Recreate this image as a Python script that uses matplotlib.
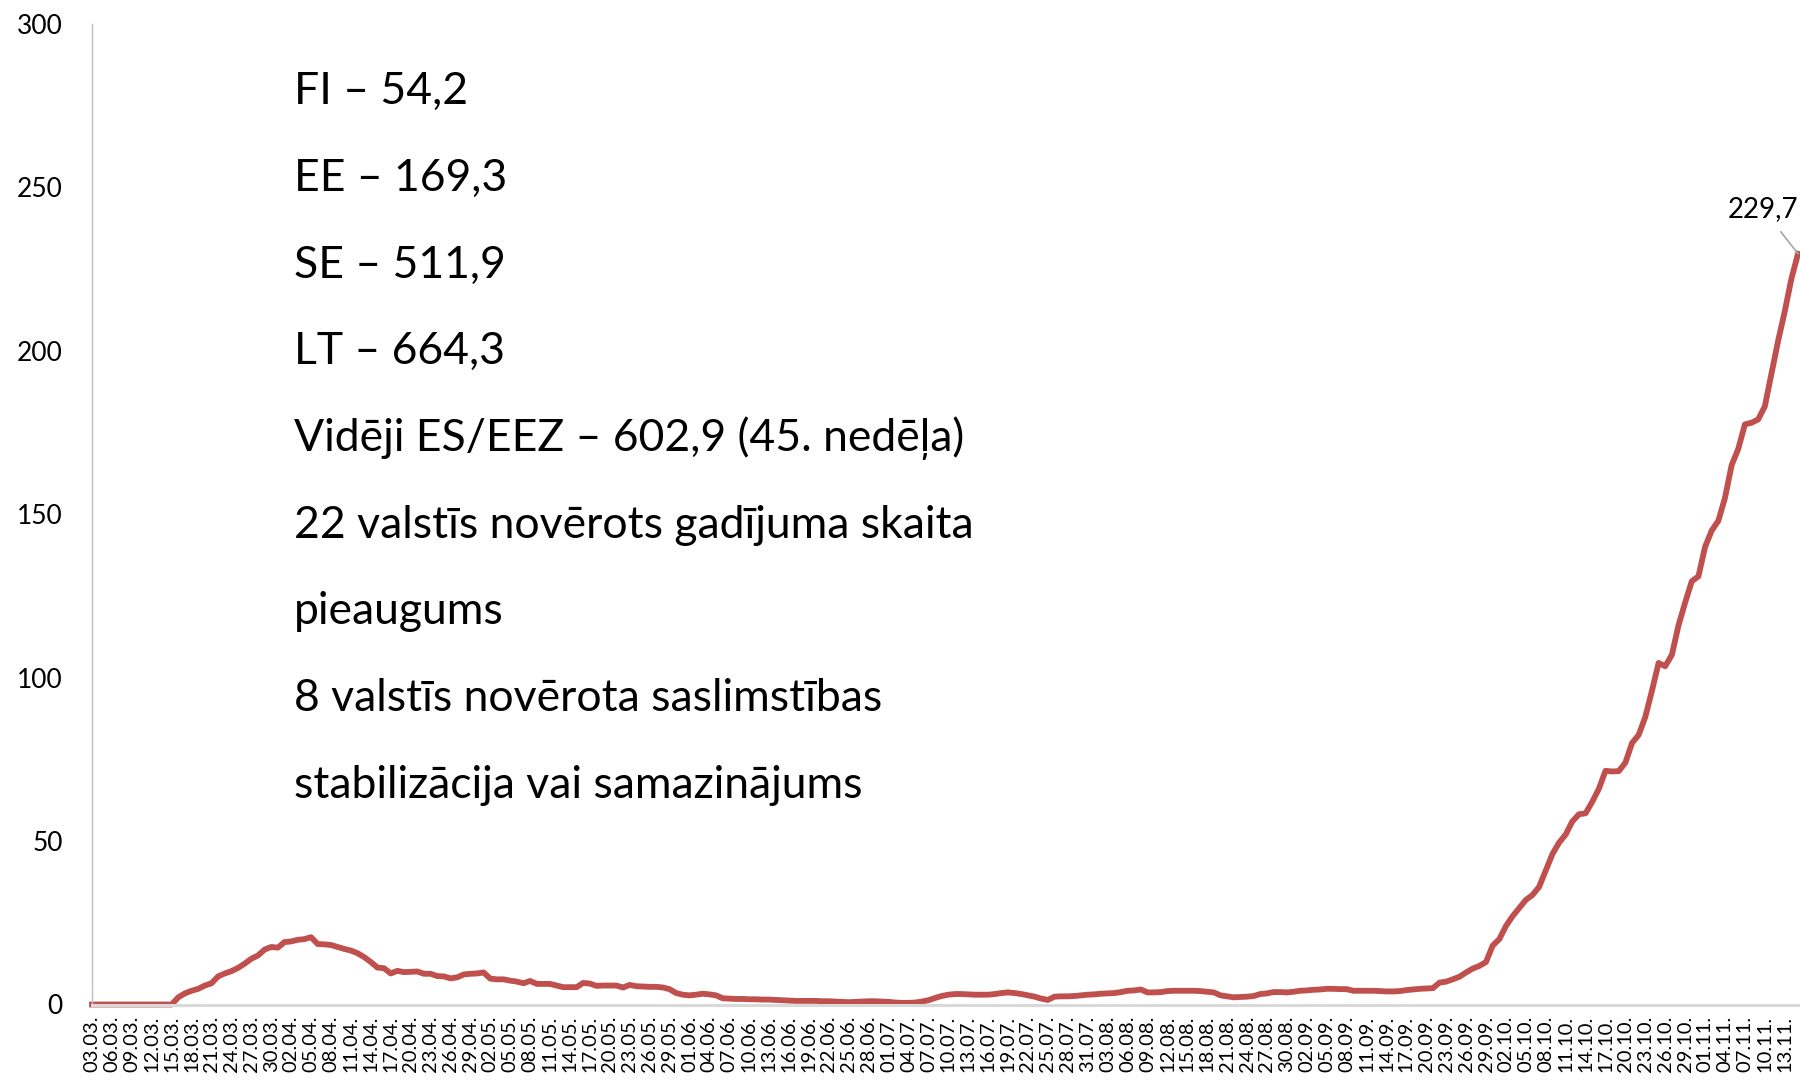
import matplotlib
matplotlib.use("Agg")
import matplotlib.pyplot as plt
import pandas as pd

# 14-day rate per 100 000, daily from 03.03.2020
start_date = "2020-03-03"
values = [
    0, 0, 0, 0, 0, 0, 0, 0, 0, 0, 0, 0, 0,
    2.2, 3.4, 4.2, 4.8, 5.8, 6.5, 8.6, 9.5, 10.2, 11.2, 12.5, 14.0, 15.0,
    16.8, 17.6, 17.4, 19.1, 19.3, 19.8, 20.0, 20.6, 18.5, 18.4, 18.2, 17.6,
    17.0, 16.5, 15.7, 14.5, 13.0, 11.3, 11.1, 9.5, 10.3, 9.9, 10.0, 10.1,
    9.4, 9.4, 8.7, 8.6, 8.0, 8.3, 9.2, 9.4, 9.5, 9.8, 7.9, 7.7, 7.7, 7.3,
    7.0, 6.5, 7.2, 6.3, 6.3, 6.3, 5.8, 5.3, 5.3, 5.3, 6.6, 6.4, 5.7, 5.8,
    5.8, 5.8, 5.2, 6.0, 5.6, 5.5, 5.4, 5.4, 5.2, 4.7, 3.5, 3.0, 2.8, 3.0,
    3.3, 3.1, 2.8, 1.9, 1.8, 1.7, 1.7, 1.6, 1.6, 1.5, 1.5, 1.4, 1.3, 1.2,
    1.1, 1.1, 1.1, 1.1, 1.0, 1.0, 0.9, 0.8, 0.7, 0.8, 0.9, 1.0, 1.0, 0.9,
    0.8, 0.6, 0.5, 0.5, 0.6, 0.9, 1.3, 2.0, 2.6, 3.0, 3.2, 3.2, 3.1, 3.0,
    3.0, 3.0, 3.2, 3.5, 3.7, 3.5, 3.2, 2.8, 2.4, 1.8, 1.4, 2.4, 2.5, 2.5,
    2.6, 2.8, 3.0, 3.1, 3.3, 3.4, 3.5, 3.8, 4.2, 4.3, 4.6, 3.7, 3.7, 3.8,
    4.1, 4.2, 4.2, 4.2, 4.2, 4.1, 3.9, 3.7, 2.8, 2.5, 2.2, 2.3, 2.4, 2.6,
    3.2, 3.4, 3.8, 3.8, 3.7, 3.9, 4.2, 4.3, 4.5, 4.6, 4.8, 4.8, 4.7, 4.7,
    4.2, 4.2, 4.2, 4.2, 4.1, 4.0, 4.0, 4.1, 4.4, 4.6, 4.8, 4.9, 5.0, 6.7,
    7.0, 7.7, 8.5, 9.8, 11.0, 11.8, 13.0, 18.0, 20.0, 24.0, 27.0, 29.5,
    32.0, 33.5, 36.0, 41.0, 46.0, 49.5, 52.0, 56.0, 58.2, 58.5, 62.0, 66.0,
    71.5, 71.3, 71.4, 74.0, 80.0, 82.5, 88.0, 96.0, 104.5, 103.5, 107.0,
    116.0, 123.0, 129.5, 131.0, 140.0, 145.0, 148.0, 155.0, 165.0, 170.0,
    177.5, 178.0, 179.0, 183.0, 193.0, 203.0, 212.0, 222.0, 229.7,
]
dates = pd.date_range(start_date, periods=len(values))
tick_labels = [d.strftime("%d.%m.") for d in dates]
last_label = "229,7"

info_lines = [
    "FI \u2013 54,2",
    "EE \u2013 169,3",
    "SE \u2013 511,9",
    "LT \u2013 664,3",
    "Vid\u0113ji ES/EEZ \u2013 602,9 (45. ned\u0113\u013ca)",
    "22 valst\u012bs nov\u0113rots gad\u012bjuma skaita",
    "pieaugums",
    "8 valst\u012bs nov\u0113rota saslimst\u012bbas",
    "stabiliz\u0101cija vai samazin\u0101jums",
]

plt.rcParams['font.family'] = ['Lato', 'DejaVu Sans']

fig = plt.figure(figsize=(18, 10.81), dpi=100)
ax = fig.add_axes([92 / 1800, 76.5 / 1081, 1706 / 1800, 980.5 / 1081])

x = list(range(len(values)))
ax.plot(x, values, color='#C0504D', lw=4.2, clip_on=False, solid_joinstyle='round')

ax.set_xlim(0, len(values) - 1)
ax.set_ylim(0, 300)
ax.set_yticks(range(0, 301, 50))
ax.tick_params(axis='y', length=0, pad=21, labelsize=19)
ax.set_xticks(x[::3])
ax.set_xticklabels(tick_labels[::3], rotation=90, fontsize=14.5)
ax.tick_params(axis='x', length=0, pad=8)

for s in ['top', 'right']:
    ax.spines[s].set_visible(False)
ax.spines['left'].set_color('#BFBFBF')
ax.spines['left'].set_linewidth(1)
ax.spines['bottom'].set_color('#D9D9D9')
ax.spines['bottom'].set_linewidth(2.2)

ax.annotate(last_label, xy=(x[-1], values[-1]), xytext=(-25, 32),
            textcoords='offset points', ha='center', va='center', fontsize=20,
            arrowprops=dict(arrowstyle='-', color='#A6A6A6', lw=1.2,
                            shrinkA=6, shrinkB=0))

# text block on the left
for i, line in enumerate(info_lines):
    yc = 91.8 + i * 86.7
    fig.text(294 / 1800, 1 - yc / 1081, line, fontsize=32, va='center', ha='left')

fig.savefig('out.png', dpi=100)
